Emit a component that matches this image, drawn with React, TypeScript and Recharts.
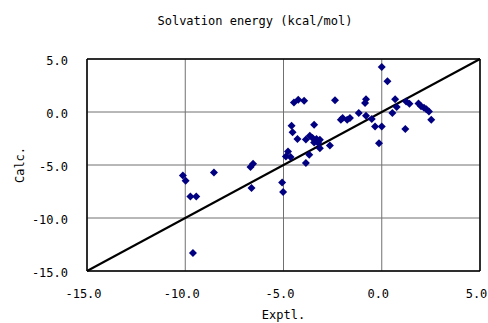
import { ScatterChart, Scatter, XAxis, YAxis, CartesianGrid, ReferenceLine, Label } from 'recharts';

const exptl = [
  0.0, 0.29, -4.47, -4.25, -3.95, -2.38, -0.8, -0.85, 0.68, 0.76, 0.54, 1.24, 1.41,
  1.87, 2.0, 2.15, 2.27, 2.4, 2.52, 1.2, 0.0, -0.34, -0.14, -0.51, -0.8, -1.17,
  -1.62, -1.76, -1.99, -2.08, -4.59, -4.54, -4.29, -3.44, -3.86, -3.66, -3.52,
  -3.32, -3.15, -3.44, -3.23, -3.15, -2.64, -3.69, -3.86, -4.77, -4.88, -4.64,
  -5.07, -5.02, -10.12, -9.98, -9.74, -9.44, -8.54, -6.68, -6.55, -6.63, -9.61,
];
const calc = [
  4.25, 2.9, 0.9, 1.16, 1.07, 1.1, 1.2, 0.85, 1.2, 0.47, -0.1, 1.0, 0.78,
  0.8, 0.55, 0.4, 0.25, 0.05, -0.73, -1.6, -1.36, -1.36, -2.95, -0.66, -0.35, -0.1,
  -0.57, -0.73, -0.57, -0.73, -1.29, -1.92, -2.55, -1.2, -2.6, -2.24, -2.45,
  -2.55, -2.62, -2.87, -2.92, -3.43, -3.15, -4.03, -4.81, -3.72, -4.19, -4.25,
  -6.64, -7.55, -6.0, -6.48, -7.96, -7.96, -5.7, -5.19, -4.88, -7.17, -13.3,
];
const ticks = [-15, -10, -5, 0, 5];
const diagonal = [-15, 5];

const data = exptl.map((x, i) => ({ x, y: calc[i] }));
const font = '"DejaVu Sans Mono", monospace';

const Diamond = (props: any) => {
  const { cx, cy } = props;
  const r = 4;
  return (
    <polygon
      points={`${cx},${cy - r} ${cx + r},${cy} ${cx},${cy + r} ${cx - r},${cy}`}
      fill="#000080"
    />
  );
};

export default function App() {
  return (
    <div style={{ position: 'absolute', left: 0, top: 0, width: 488, height: 323, background: '#fff' }}>
      <div
        style={{
          position: 'absolute',
          left: 0,
          width: 510,
          top: 14,
          textAlign: 'center',
          fontFamily: font,
          fontSize: 12,
          color: '#000',
        }}
      >
        Solvation energy (kcal/mol)
      </div>
      <ScatterChart width={488} height={323} margin={{ top: 59, right: 8, left: 0, bottom: 0 }}>
        <CartesianGrid stroke="#707070" strokeWidth={1} />
        <XAxis
          type="number"
          dataKey="x"
          domain={[-15, 5]}
          ticks={ticks}
          tickFormatter={(v: number) => v.toFixed(1)}
          tick={{ fontSize: 12, fontFamily: font, fill: '#000', dx: -3.5 }}
          tickLine={false}
          tickSize={16}
          tickMargin={2}
          axisLine={{ stroke: '#000', strokeWidth: 1.5 }}
          height={52}
          allowDataOverflow
        >
          <Label value="Exptl." position="insideBottom" offset={4} style={{ fontSize: 12, fontFamily: font, fill: '#000' }} />
        </XAxis>
        <YAxis
          type="number"
          dataKey="y"
          domain={[-15, 5]}
          ticks={ticks}
          tickFormatter={(v: number) => v.toFixed(1)}
          tick={{ fontSize: 12, fontFamily: font, fill: '#000', dy: 2 }}
          tickLine={false}
          tickSize={17}
          tickMargin={2}
          axisLine={{ stroke: '#000', strokeWidth: 1.5 }}
          width={87}
          allowDataOverflow
        >
          <Label value="Calc." angle={-90} position="insideLeft" offset={20} style={{ fontSize: 12, fontFamily: font, fill: '#000', textAnchor: 'middle' }} />
        </YAxis>
        <ReferenceLine y={5} stroke="#000" strokeWidth={1.5} />
        <ReferenceLine x={5} stroke="#000" strokeWidth={1.5} />
        <ReferenceLine
          segment={[
            { x: diagonal[0], y: diagonal[0] },
            { x: diagonal[1], y: diagonal[1] },
          ]}
          stroke="#000"
          strokeWidth={2}
        />
        <Scatter data={data} shape={<Diamond />} isAnimationActive={false} />
      </ScatterChart>
    </div>
  );
}
